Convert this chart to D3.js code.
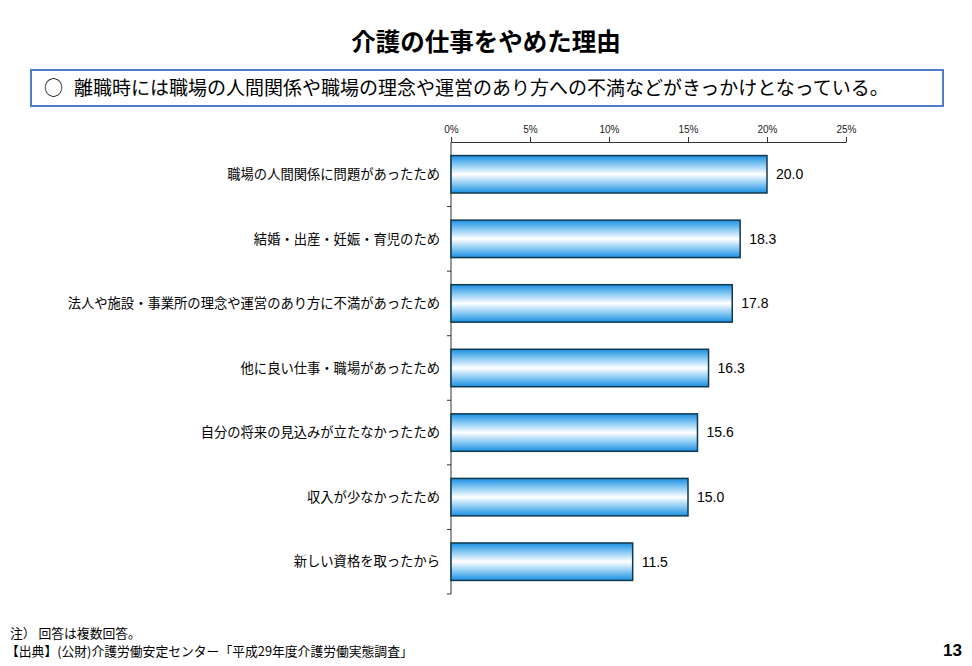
<!DOCTYPE html>
<html>
<head>
<meta charset="utf-8">
<script src="https://cdn.jsdelivr.net/npm/d3@7.8.5/dist/d3.min.js"></script>
<style>
  body { margin: 0; background: #fff; }
  svg { display: block; font-family: "Noto Sans CJK JP", "Noto Sans", sans-serif; }
</style>
</head>
<body>
<svg width="972" height="666"></svg>
<script>
const reasons = [
  "職場の人間関係に問題があったため",
  "結婚・出産・妊娠・育児のため",
  "法人や施設・事業所の理念や運営のあり方に不満があったため",
  "他に良い仕事・職場があったため",
  "自分の将来の見込みが立たなかったため",
  "収入が少なかったため",
  "新しい資格を取ったから"
];
const shares = [20.0, 18.3, 17.8, 16.3, 15.6, 15.0, 11.5];
const tickValues = [0, 5, 10, 15, 20, 25];

const svg = d3.select("svg");

// gradient for bars
const defs = svg.append("defs");
const grad = defs.append("linearGradient")
  .attr("id", "barGrad")
  .attr("x1", 0).attr("y1", 0).attr("x2", 0).attr("y2", 1);
[["0%", "#1a8fe0"], ["25%", "#8ccbf4"], ["50%", "#ffffff"], ["75%", "#8ccbf4"], ["100%", "#1a8fe0"]]
  .forEach(([o, c]) => grad.append("stop").attr("offset", o).attr("stop-color", c));

// title
svg.append("text")
  .attr("x", 486).attr("y", 51)
  .attr("text-anchor", "middle")
  .attr("font-size", 24.5).attr("font-weight", "bold")
  .text("介護の仕事をやめた理由");

// summary box
svg.append("rect")
  .attr("x", 31).attr("y", 70).attr("width", 912).attr("height", 36)
  .attr("fill", "#fff").attr("stroke", "#4f7ec4").attr("stroke-width", 2);
const summary = svg.append("text")
  .attr("y", 95)
  .attr("font-size", 19);
summary.append("tspan").attr("x", 44).text("○");
summary.append("tspan").attr("x", 74)
  .text("離職時には職場の人間関係や職場の理念や運営のあり方への不満などがきっかけとなっている。");

const x = d3.scaleLinear().domain([0, 25]).range([451, 846]);
const y = d3.scaleBand().domain(reasons).range([142, 594]).paddingInner(0.42).paddingOuter(0.21);

// top axis
const xAxis = svg.append("g")
  .attr("transform", "translate(0,142)")
  .call(d3.axisTop(x).tickValues(tickValues).tickFormat(d => d + "%").tickSize(5).tickSizeOuter(0));
xAxis.select(".domain").attr("stroke", "#333");
xAxis.selectAll(".tick line").attr("stroke", "#333");
xAxis.selectAll("text").attr("font-size", 10).attr("font-family", "Liberation Sans, Arial, sans-serif").attr("fill", "#222").attr("dy", "-0.1em");

// left axis line + boundary ticks
svg.append("line")
  .attr("x1", 451).attr("x2", 451).attr("y1", 142).attr("y2", 594)
  .attr("stroke", "#333");
const step = y.step();
svg.append("g").selectAll("line")
  .data(d3.range(1, reasons.length + 1))
  .join("line")
  .attr("x1", 447).attr("x2", 451)
  .attr("y1", i => 142 + i * step).attr("y2", i => 142 + i * step)
  .attr("stroke", "#333");

// bars
svg.append("g").selectAll("rect")
  .data(reasons)
  .join("rect")
  .attr("x", x(0))
  .attr("y", d => y(d))
  .attr("width", (d, i) => x(shares[i]) - x(0))
  .attr("height", y.bandwidth())
  .attr("fill", "url(#barGrad)")
  .attr("stroke", "#123a4e")
  .attr("stroke-width", 1.5);

// category labels
svg.append("g").selectAll("text")
  .data(reasons)
  .join("text")
  .attr("x", 440)
  .attr("y", d => y(d) + y.bandwidth() / 2)
  .attr("dy", "0.35em")
  .attr("text-anchor", "end")
  .attr("font-size", 13.3)
  .text(d => d);

// value labels
svg.append("g").selectAll("text")
  .data(reasons)
  .join("text")
  .attr("x", (d, i) => x(shares[i]) + 9)
  .attr("y", d => y(d) + y.bandwidth() / 2)
  .attr("dy", "0.35em")
  .attr("font-size", 14)
  .attr("font-family", "Liberation Sans, Arial, sans-serif")
  .text((d, i) => shares[i].toFixed(1));

// footnotes
svg.append("text").attr("x", 10).attr("y", 638).attr("font-size", 12.8)
  .text("注） 回答は複数回答。");
svg.append("text").attr("x", 6).attr("y", 656).attr("font-size", 12.8)
  .text("【出典】(公財)介護労働安定センター「平成29年度介護労働実態調査」");
svg.append("text").attr("x", 962).attr("y", 656).attr("text-anchor", "end")
  .attr("font-size", 17).attr("font-weight", "bold")
  .attr("font-family", "Liberation Sans, Arial, sans-serif")
  .text("13");
</script>
</body>
</html>
